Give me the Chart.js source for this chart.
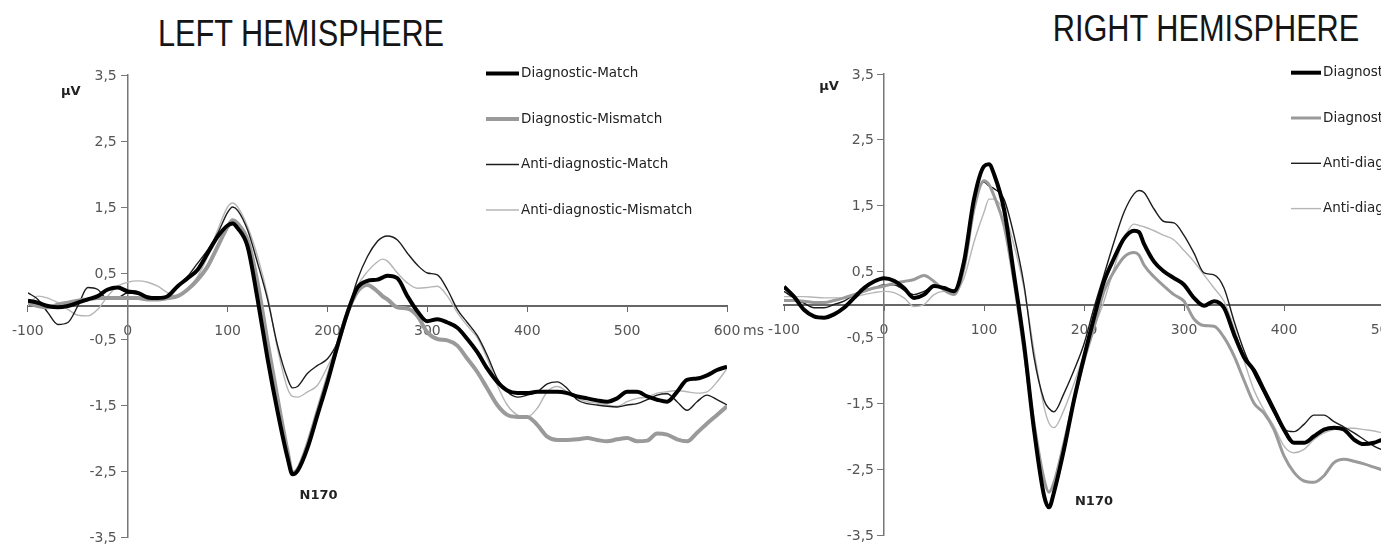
<!DOCTYPE html>
<html>
<head>
<meta charset="utf-8">
<title>ERP waveforms</title>
<script src="https://cdn.jsdelivr.net/npm/chart.js@4/dist/chart.umd.min.js"></script>
<style>
  html, body { margin: 0; padding: 0; background: #fff; }
  body { width: 1397px; height: 546px; overflow: hidden; position: relative; }
  .title {
    position: absolute;
    font-family: 'Liberation Sans', Arial, sans-serif;
    font-size: 37px; line-height: 37px; color: #151515;
    white-space: nowrap;
    transform: translateX(-50%) scaleX(0.83);
    transform-origin: center top;
  }
  #leftChart { position: absolute; left: 0; top: 0; }
  #rightWrap { position: absolute; left: 744px; top: 0; width: 637px; height: 546px; overflow: hidden; }
  #rightChart { position: absolute; left: 0; top: 0; }
</style>
</head>
<body>
<div class="title" style="left:301px; top:15px;">LEFT HEMISPHERE</div>
<div class="title" style="left:1206px; top:10px;">RIGHT HEMISPHERE</div>
<canvas id="leftChart" width="775" height="546"></canvas>
<div id="rightWrap"><canvas id="rightChart" width="800" height="546"></canvas></div>
<script>
// ---- condition names ----
const conditionLabels = ['Diagnostic-Match', 'Diagnostic-Mismatch', 'Anti-diagnostic-Match', 'Anti-diagnostic-Mismatch'];

// ---- axis ticks ----
const xTicks = [-100, 0, 100, 200, 300, 400, 500, 600];
const yTicks = [-3.5, -2.5, -1.5, -0.5, 0.5, 1.5, 2.5, 3.5];

// ---- sample times (ms) ----
const timesLeft = [-100,-90,-80,-70,-60,-50,-40,-30,-20,-10,
  0,10,20,30,40,50,60,70,80,90,
  100,105,110,120,130,140,150,160,165,170,
  180,190,200,210,220,230,240,250,255,260,
  270,280,290,300,310,320,330,340,350,360,
  370,380,390,400,410,420,430,440,450,460,
  470,480,490,500,510,520,530,540,550,560,
  570,580,590,600];
const timesRight = timesLeft.filter(t => t <= 520);

// ---- left hemisphere amplitudes (µV) ----
const leftDiagMatch = [0.08,0.05,0.0,-0.02,0.0,0.05,0.1,0.15,0.25,0.28,
  0.22,0.2,0.13,0.12,0.15,0.3,0.42,0.55,0.8,1.05,
  1.22,1.25,1.18,0.9,0.1,-0.8,-1.6,-2.3,-2.55,-2.5,
  -2.15,-1.65,-1.15,-0.6,-0.1,0.28,0.38,0.4,0.43,0.46,
  0.42,0.15,-0.08,-0.23,-0.2,-0.25,-0.33,-0.5,-0.7,-0.95,
  -1.15,-1.28,-1.32,-1.32,-1.3,-1.3,-1.3,-1.32,-1.37,-1.4,
  -1.43,-1.45,-1.4,-1.3,-1.3,-1.37,-1.42,-1.45,-1.3,-1.12,
  -1.1,-1.05,-0.97,-0.92];
const leftDiagMismatch = [0.05,0.0,-0.02,0.02,0.05,0.08,0.1,0.12,0.12,0.12,
  0.12,0.12,0.1,0.1,0.12,0.15,0.25,0.4,0.6,0.9,
  1.2,1.3,1.25,1.0,0.35,-0.55,-1.4,-2.2,-2.53,-2.48,
  -2.1,-1.6,-1.1,-0.6,-0.1,0.22,0.32,0.22,0.15,0.1,
  -0.02,-0.04,-0.15,-0.4,-0.5,-0.52,-0.6,-0.8,-1.0,-1.25,
  -1.5,-1.65,-1.68,-1.68,-1.8,-1.98,-2.03,-2.03,-2.02,-2.0,
  -2.03,-2.05,-2.02,-2.0,-2.05,-2.04,-1.93,-1.95,-2.02,-2.05,
  -1.92,-1.78,-1.65,-1.52];
const leftAntiMatch = [0.2,0.1,-0.1,-0.28,-0.25,0.0,0.28,0.25,0.1,0.12,
  0.2,0.18,0.15,0.12,0.15,0.3,0.45,0.65,0.85,1.1,
  1.42,1.5,1.45,1.15,0.65,0.1,-0.6,-1.1,-1.24,-1.22,
  -1.02,-0.9,-0.8,-0.55,-0.1,0.4,0.75,0.98,1.04,1.06,
  1.0,0.8,0.62,0.5,0.47,0.25,-0.05,-0.25,-0.45,-0.75,
  -1.1,-1.3,-1.38,-1.35,-1.3,-1.18,-1.15,-1.25,-1.42,-1.48,
  -1.5,-1.52,-1.53,-1.5,-1.48,-1.42,-1.35,-1.33,-1.45,-1.58,
  -1.45,-1.35,-1.42,-1.5];
const leftAntiMismatch = [0.0,0.15,0.12,0.05,-0.05,-0.14,-0.15,-0.05,0.15,0.3,
  0.36,0.38,0.36,0.3,0.2,0.15,0.25,0.45,0.75,1.15,
  1.5,1.56,1.5,1.2,0.75,0.15,-0.65,-1.25,-1.37,-1.38,
  -1.3,-1.2,-0.92,-0.6,-0.12,0.3,0.52,0.67,0.71,0.68,
  0.5,0.35,0.27,0.28,0.3,0.15,-0.1,-0.3,-0.48,-0.8,
  -1.2,-1.5,-1.65,-1.68,-1.55,-1.3,-1.22,-1.3,-1.4,-1.45,
  -1.47,-1.5,-1.52,-1.45,-1.4,-1.38,-1.32,-1.3,-1.28,-1.3,
  -1.32,-1.3,-1.15,-0.95];

// ---- right hemisphere amplitudes (µV) ----
const rightDiagMatch = [0.27,0.12,-0.08,-0.18,-0.2,-0.15,-0.05,0.1,0.25,0.35,
  0.4,0.36,0.25,0.1,0.15,0.28,0.25,0.2,0.65,1.6,
  2.1,2.13,1.98,1.45,0.45,-0.6,-1.9,-2.9,-3.08,-2.85,
  -2.2,-1.45,-0.8,-0.2,0.35,0.7,1.0,1.12,1.1,0.92,
  0.65,0.5,0.4,0.3,0.1,-0.02,0.05,-0.05,-0.45,-0.8,
  -1.0,-1.3,-1.6,-1.9,-2.1,-2.1,-2.0,-1.9,-1.87,-1.9,
  -2.05,-2.12,-2.1,-2.05,-2.05,-2.1];
const rightDiagMismatch = [0.06,0.06,0.05,0.03,0.03,0.06,0.1,0.15,0.2,0.25,
  0.28,0.32,0.35,0.38,0.44,0.35,0.22,0.15,0.55,1.45,
  1.88,1.82,1.65,1.2,0.35,-0.7,-1.8,-2.65,-2.85,-2.7,
  -2.1,-1.45,-0.85,-0.35,0.2,0.5,0.72,0.79,0.75,0.6,
  0.42,0.28,0.15,0.05,-0.22,-0.32,-0.33,-0.5,-0.78,-1.15,
  -1.5,-1.65,-1.9,-2.3,-2.55,-2.68,-2.7,-2.6,-2.4,-2.35,
  -2.38,-2.42,-2.47,-2.52,-2.58,-2.6];
const rightAntiMatch = [0.2,0.1,0.02,-0.05,-0.05,0.0,0.05,0.15,0.22,0.25,
  0.3,0.3,0.22,0.15,0.2,0.27,0.25,0.2,0.7,1.5,
  1.86,1.8,1.76,1.6,1.05,0.3,-0.8,-1.45,-1.58,-1.63,
  -1.35,-1.0,-0.6,-0.05,0.45,0.95,1.4,1.68,1.73,1.7,
  1.45,1.26,1.24,1.05,0.78,0.48,0.45,0.25,-0.25,-0.7,
  -1.05,-1.35,-1.65,-1.9,-1.93,-1.82,-1.68,-1.68,-1.78,-1.86,
  -1.95,-2.05,-2.15,-2.22,-2.3,-2.35];
const rightAntiMismatch = [0.12,0.12,0.12,0.11,0.1,0.1,0.1,0.12,0.15,0.18,
  0.2,0.18,0.1,-0.03,0.0,0.15,0.2,0.18,0.4,0.95,
  1.4,1.6,1.6,1.4,0.9,0.25,-0.7,-1.55,-1.8,-1.87,
  -1.6,-1.2,-0.75,-0.35,0.05,0.55,1.0,1.22,1.2,1.18,
  1.12,1.05,0.98,0.82,0.65,0.45,0.25,0.05,-0.35,-0.85,
  -1.3,-1.6,-1.85,-2.15,-2.25,-2.2,-2.05,-1.95,-1.9,-1.88,
  -1.88,-1.9,-1.92,-1.95,-1.95,-1.98];

// decimal comma formatting for tick labels
const fmt = v => String(v).replace('.', ',');

// legend, y tick labels, unit, peak label and time unit drawn over the plot
const panelDecor = {
  id: 'panelDecor',
  afterDatasetsDraw(chart, args, opts) {
    const { ctx } = chart;
    const xs = chart.scales.x, ys = chart.scales.y;
    const axisX = xs.getPixelForValue(0);
    ctx.save();

    // y tick labels, right-aligned to the left of the vertical axis
    ctx.font = '14px "DejaVu Sans"';
    ctx.fillStyle = '#555';
    ctx.textAlign = 'right';
    ctx.textBaseline = 'middle';
    ys.ticks.forEach(t => {
      ctx.fillText(fmt(t.value), axisX - opts.yLabelGap, ys.getPixelForValue(t.value) + 1);
    });

    // legend column
    ctx.textAlign = 'left';
    chart.data.datasets.forEach((ds, i) => {
      const ly = opts.legendY + i * opts.legendGap;
      ctx.strokeStyle = ds.borderColor;
      ctx.lineWidth = ds.borderWidth;
      ctx.beginPath();
      ctx.moveTo(opts.legendX, ly);
      ctx.lineTo(opts.legendX + opts.sampleLen, ly);
      ctx.stroke();
      ctx.fillStyle = '#222';
      ctx.font = '13.5px "DejaVu Sans"';
      ctx.fillText(ds.label, opts.legendX + opts.sampleLen + 2, ly);
    });

    // unit and component labels
    ctx.fillStyle = '#222';
    ctx.font = 'bold 13px "DejaVu Sans"';
    ctx.textAlign = 'center';
    ctx.fillText('µV', axisX + opts.unitDx, ys.top + opts.unitDy);
    ctx.fillText('N170', xs.getPixelForValue(opts.peakT), ys.getPixelForValue(opts.peakV));

    if (opts.showMs) {
      ctx.font = '14px "DejaVu Sans"';
      ctx.fillStyle = '#555';
      ctx.textAlign = 'left';
      ctx.fillText('ms', xs.getPixelForValue(600) + 16, ys.getPixelForValue(0) + 25);
    }
    ctx.restore();
  }
};

const lineStyles = [
  { color: '#000000', width: 4 },
  { color: '#9a9a9a', width: 4 },
  { color: '#1c1c1c', width: 1.4 },
  { color: '#b6b6b6', width: 1.4 }
];

function makePanel(canvasId, times, series, padding, decor, mismatchWidth) {
  const datasets = series.map((vals, i) => ({
    label: conditionLabels[i],
    data: vals.map((v, k) => ({ x: times[k], y: v })),
    borderColor: lineStyles[i].color,
    borderWidth: i === 1 ? mismatchWidth : lineStyles[i].width,
    pointRadius: 0,
    cubicInterpolationMode: 'monotone',
    borderJoinStyle: 'round',
    fill: false
  }));
  return new Chart(document.getElementById(canvasId), {
    type: 'line',
    data: { datasets },
    options: {
      responsive: false,
      animation: false,
      devicePixelRatio: 1,
      layout: { padding },
      plugins: {
        legend: { display: false },
        title: { display: false },
        tooltip: { enabled: false },
        panelDecor: decor
      },
      scales: {
        x: {
          type: 'linear',
          min: -100, max: 600,
          position: { y: 0 },
          afterBuildTicks: s => { s.ticks = xTicks.map(v => ({ value: v })); },
          grid: { display: true, drawOnChartArea: false, drawTicks: true, tickLength: 5, color: '#666', lineWidth: 1 },
          border: { display: true, color: '#666', width: 2 },
          ticks: { font: { family: 'DejaVu Sans', size: 14 }, color: '#555', padding: 12, maxRotation: 0, autoSkip: false, callback: v => fmt(v) }
        },
        y: {
          type: 'linear',
          min: -3.5, max: 3.5,
          position: { x: 0 },
          afterBuildTicks: s => { s.ticks = yTicks.map(v => ({ value: v })); },
          grid: { display: true, drawOnChartArea: false, drawTicks: true, tickLength: 6, color: '#777', lineWidth: 1 },
          border: { display: true, color: '#777', width: 1.5 },
          ticks: { display: false }
        }
      }
    },
    plugins: [panelDecor]
  });
}

makePanel('leftChart', timesLeft,
  [leftDiagMatch, leftDiagMismatch, leftAntiMatch, leftAntiMismatch],
  { left: 23, right: 48, top: 75, bottom: 9 },
  { legendX: 486, legendY: 73.5, legendGap: 45.5, sampleLen: 33, yLabelGap: 11, unitDx: -57, unitDy: 17, peakT: 191, peakV: -2.88, showMs: true },
  4);

makePanel('rightChart', timesRight,
  [rightDiagMatch, rightDiagMismatch, rightAntiMatch, rightAntiMismatch],
  { left: 40, right: 60, top: 74, bottom: 11 },
  { legendX: 547, legendY: 72.7, legendGap: 45.3, sampleLen: 30, yLabelGap: 10, unitDx: -55, unitDy: 13, peakT: 210, peakV: -2.99, showMs: false },
  3);
</script>
</body>
</html>
